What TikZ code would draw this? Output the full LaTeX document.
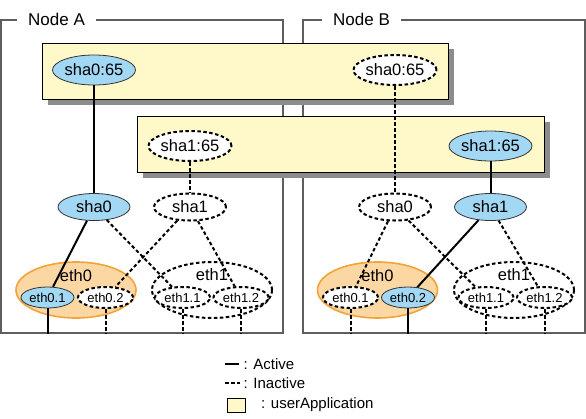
\documentclass[tikz,border=0pt]{standalone}
\usepackage{fontspec}
\setmainfont{Liberation Sans}
\usetikzlibrary{shapes.geometric,shadows}
\definecolor{ifblue}{HTML}{A3D8F5}
\definecolor{appyellow}{HTML}{FFF9C9}
\definecolor{grpfill}{HTML}{FBD7A3}
\definecolor{grpline}{HTML}{F2A33A}
\definecolor{framegray}{HTML}{5E5E5E}
\tikzset{
	act/.style={line width=2pt},
	inact/.style={line width=2pt, dash pattern=on 3.5pt off 2.5pt},
	framebox/.style={draw=framegray, line width=1.2pt, minimum width=282pt, minimum height=313pt, inner sep=0},
	framelabel/.style={fill=white, inner xsep=11pt, inner ysep=2pt, anchor=west, font=\fontsize{17}{20}\selectfont},
	appbox/.style={draw=black, line width=0.9pt, fill=appyellow, minimum width=406pt, minimum height=56pt, inner sep=0,
		drop shadow={shadow xshift=6pt, shadow yshift=-6pt, fill=black!45, opacity=1}},
	upif/.style={ellipse, draw=black!80, line width=0.8pt, fill=ifblue, inner sep=0, font=\fontsize{16.5}{19}\selectfont},
	downif/.style={ellipse, draw=black, inact, fill=white, inner sep=0, font=\fontsize{16.5}{19}\selectfont},
	shabig/.style={minimum width=80pt, minimum height=30pt},
	shasmall/.style={minimum width=72pt, minimum height=27pt},
	ethsub/.style={minimum width=55pt, minimum height=21pt, font=\fontsize{13}{15}\selectfont},
	ethgrp/.style={ellipse, minimum width=120pt, minimum height=56pt, inner sep=0},
	ethname/.style={font=\fontsize{16.5}{19}\selectfont},
	legendtext/.style={anchor=west, inner sep=0, font=\fontsize{15}{17}\selectfont}
}
\begin{document}
\begin{tikzpicture}[x=1pt,y=-1pt]
		%%%%% START %%%%%
		\useasboundingbox (0,0) rectangle (586,418);
		
		%%%%% nodes A and B %%%%%
		\node[framebox] (frmA) at (142,176.5) {};
		\node[framelabel] (lblA) at (17,19) {Node A};
		\node[framebox] (frmB) at (444,176.5) {};
		\node[framelabel] (lblB) at (322,19) {Node B};
		
		%%%%% userApplications %%%%%
		\node[appbox] (app0) at (245,71) {};
		\node[appbox, minimum width=407pt] (app1) at (340.5,144) {};
		
		\node[upif, shabig] (a065) at (94,70) {sha0:65};
		\node[downif, shabig] (b065) at (395,70) {sha0:65};
		\node[downif, shabig] (a165) at (190,146) {sha1:65};
		\node[upif, shabig] (b165) at (490.5,146) {sha1:65};
		
		%%%%% sha %%%%%
		\node[upif, shasmall] (asha0) at (94,207) {sha0};
		\node[downif, shasmall] (asha1) at (190,207) {sha1};
		\node[downif, shasmall] (bsha0) at (395,207) {sha0};
		\node[upif, shasmall] (bsha1) at (490.5,207) {sha1};
		
		%%%%% eth, node A %%%%%
		\node[ethgrp, draw=grpline, fill=grpfill, line width=1.6pt] (aeth0) at (76,290) {};
		\node[ethname] (aeth0t) at ([yshift=-14pt]aeth0.north) {eth0};
		\node[upif, ethsub, minimum width=53pt] (aeth01) at (47.5,297.5) {eth0.1};
		\node[downif, ethsub] (aeth02) at (105.5,297.5) {eth0.2};
		\node[ethgrp, draw, inact, fill=white] (aeth1) at (212,290) {};
		\node[ethname] (aeth1t) at ([yshift=-14pt]aeth1.north) {eth1};
		\node[downif, ethsub] (aeth11) at (182.5,297.5) {eth1.1};
		\node[downif, ethsub] (aeth12) at (241,297.5) {eth1.2};
		
		%%%%% eth, node B %%%%%
		\node[ethgrp, draw=grpline, fill=grpfill, line width=1.6pt] (beth0) at (377.5,290) {};
		\node[ethname] (beth0t) at ([yshift=-14pt]beth0.north) {eth0};
		\node[downif, ethsub] (beth01) at (350.5,297.5) {eth0.1};
		\node[upif, ethsub, minimum width=53pt] (beth02) at (408,297.5) {eth0.2};
		\node[ethgrp, draw, inact, fill=white] (beth1) at (514,290) {};
		\node[ethname] (beth1t) at ([yshift=-14pt]beth1.north) {eth1};
		\node[downif, ethsub] (beth11) at (486,297.5) {eth1.1};
		\node[downif, ethsub] (beth12) at (544.5,297.5) {eth1.2};
		
		%%%%% links %%%%%
		\draw[act] (a065) -- (asha0);
		\draw[inact] (a165) -- (asha1);
		\draw[inact] (b065) -- (bsha0);
		\draw[act] (b165) -- (bsha1);
		
		\draw[act] (asha0) -- (aeth01);
		\draw[inact] (asha0) -- (aeth11);
		\draw[inact] (asha1) -- (aeth02);
		\draw[inact] (asha1) -- (aeth12);
		
		\draw[inact] (bsha0) -- (beth01);
		\draw[inact] (bsha0) -- (beth11);
		\draw[act] (bsha1) -- (beth02);
		\draw[inact] (bsha1) -- (beth12);
		
		\draw[act] (aeth01) -- (aeth01 |- frmA.south);
		\draw[inact] (aeth02) -- (aeth02 |- frmA.south);
		\draw[inact] (aeth11) -- (aeth11 |- frmA.south);
		\draw[inact] (aeth12) -- (aeth12 |- frmA.south);
		\draw[inact] (beth01) -- (beth01 |- frmB.south);
		\draw[act] (beth02) -- (beth02 |- frmB.south);
		\draw[inact] (beth11) -- (beth11 |- frmB.south);
		\draw[inact] (beth12) -- (beth12 |- frmB.south);
		
		%%%%% legend %%%%%
		\coordinate (lgact0) at (225,364);
		\coordinate (lgact1) at (239,364);
		\coordinate (lgina0) at (225,383);
		\coordinate (lgina1) at (240,383);
		\draw[line width=1.6pt] (lgact0) -- (lgact1);
		\draw[line width=1.6pt, dash pattern=on 3.5pt off 2.5pt] (lgina0) -- (lgina1);
		\node[draw=black, line width=0.9pt, fill=appyellow, minimum width=18pt, minimum height=14pt, inner sep=0] (lgapp) at (236,405) {};
		\node[legendtext] (lgacttxt) at (243.5,364) {: Active};
		\node[legendtext] (lginatxt) at (243.5,383) {: Inactive};
		\node[legendtext] (lgapptxt) at (261,405) {: userApplication};
		%%%%% END %%%%%
	\end{tikzpicture}
\end{document}
